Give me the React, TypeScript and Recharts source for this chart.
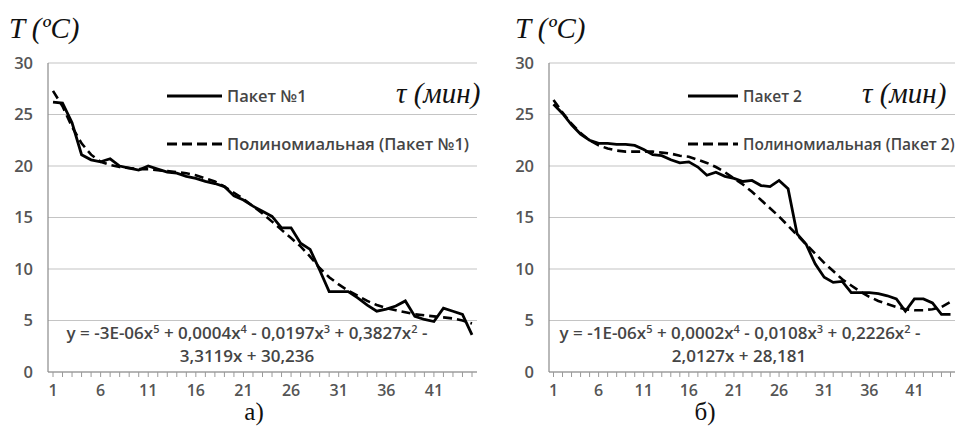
import React from 'react';
import { LineChart, Line, XAxis, YAxis, CartesianGrid } from 'recharts';

const minutes = [1,2,3,4,5,6,7,8,9,10,11,12,13,14,15,16,17,18,19,20,21,22,23,24,25,26,27,28,29,30,31,32,33,34,35,36,37,38,39,40,41,42,43,44,45];
const packet1 = [26.2,26.1,24.2,21.1,20.6,20.4,20.7,20.0,19.8,19.6,20.0,19.7,19.4,19.3,19.0,18.8,18.5,18.3,18.0,17.1,16.7,16.1,15.6,15.1,14.0,14.0,12.5,11.9,9.9,7.8,7.8,7.8,7.2,6.5,5.9,6.1,6.4,6.9,5.4,5.1,4.9,6.2,5.9,5.6,3.6];
const trend1 = [27.3,25.8,23.8,22.2,21.1,20.4,20.1,19.9,19.8,19.7,19.7,19.6,19.5,19.4,19.3,19.1,18.8,18.5,18.0,17.4,16.8,16.1,15.4,14.6,13.8,13.0,12.2,11.2,10.1,9.2,8.5,7.9,7.4,6.9,6.5,6.2,6.0,5.8,5.6,5.5,5.4,5.3,5.2,5.0,4.7];
const packet2 = [26.0,25.1,24.0,23.1,22.5,22.2,22.2,22.1,22.1,22.0,21.6,21.1,21.0,20.6,20.3,20.4,19.9,19.1,19.4,19.0,18.8,18.5,18.6,18.1,18.0,18.6,17.8,13.4,12.4,10.5,9.2,8.7,8.8,7.7,7.7,7.7,7.6,7.4,7.1,5.9,7.1,7.1,6.7,5.6,5.6];
const trend2 = [26.4,25.2,24.1,23.2,22.5,22.0,21.7,21.5,21.4,21.4,21.4,21.4,21.3,21.2,21.0,20.9,20.6,20.3,19.9,19.4,18.8,18.2,17.5,16.7,15.9,15.1,14.2,13.3,12.4,11.5,10.6,9.8,9.0,8.4,7.8,7.3,6.9,6.6,6.3,6.1,6.0,6.0,6.1,6.3,6.8];
const yTicks = [0,5,10,15,20,25,30];
const xLabelTicks = [1,6,11,16,21,26,31,36,41];

const data1 = minutes.map((m, i) => ({ m, actual: packet1[i], trend: trend1[i] }));
const data2 = minutes.map((m, i) => ({ m, actual: packet2[i], trend: trend2[i] }));

const SANS = '"Open Sans", "Noto Sans", sans-serif';
const SERIF = '"Liberation Serif", "DejaVu Serif", serif';
const TICK_COLOR = '#555555';
const TEXT_COLOR = '#454545';

const XTick = (props: any) => {
  const { x, y, payload } = props;
  if (!xLabelTicks.includes(payload.value)) return <g />;
  return (
    <text x={x} y={y} dy={17} textAnchor="middle" fill={TICK_COLOR} fontSize={16} fontWeight={600} fontFamily={SANS}>
      {payload.value}
    </text>
  );
};

function Panel(props: { data: any[]; width: number; yAxisWidth: number; marginRight: number; pad: number }) {
  const { data, width, yAxisWidth, marginRight, pad } = props;
  return (
    <LineChart width={width} height={428} data={data} margin={{ top: 63, right: marginRight, bottom: 26, left: 0 }}>
      <CartesianGrid vertical={false} stroke="#c4c4c4" strokeWidth={1.2} />
      <XAxis
        dataKey="m"
        type="category"
        interval={0}
        height={30}
        padding={{ left: pad, right: pad }}
        tick={<XTick />}
        tickSize={5}
        tickMargin={2}
        stroke="#8a8a8a"
        axisLine={{ stroke: '#8a8a8a', strokeWidth: 1.2 }}
        tickLine={{ stroke: '#9a9a9a' }}
      />
      <YAxis
        type="number"
        domain={[0, 30]}
        ticks={yTicks}
        width={yAxisWidth}
        tickLine={false}
        tickSize={0}
        tickMargin={15}
        axisLine={{ stroke: '#8a8a8a', strokeWidth: 1.2 }}
        tick={{ fill: TICK_COLOR, fontSize: 16.5, fontWeight: 600, fontFamily: SANS }}
      />
      <Line dataKey="actual" stroke="#000" strokeWidth={2.8} dot={false} isAnimationActive={false} />
      <Line dataKey="trend" stroke="#000" strokeWidth={2.6} strokeDasharray="9 5" dot={false} isAnimationActive={false} />
    </LineChart>
  );
}

function Sup({ children }: { children: React.ReactNode }) {
  return <tspan dy={-6} fontSize={11}>{children}</tspan>;
}

export default function App() {
  const legendText = { fontFamily: SANS, fontSize: 16.5, fontWeight: 600, fill: TEXT_COLOR } as const;
  const legendTextR = { fontFamily: SANS, fontSize: 15.5, fontWeight: 600, fill: TEXT_COLOR } as const;
  const eqText = { fontFamily: SANS, fontSize: 17, fontWeight: 600, fill: TEXT_COLOR } as const;
  const titleText = { fontFamily: SERIF, fontStyle: 'italic', fontSize: 29, fill: '#111' } as const;
  return (
    <div style={{ position: 'absolute', left: 0, top: 0, width: 965, height: 428, background: '#fff', overflow: 'hidden' }}>
      <div style={{ position: 'absolute', left: 0, top: 0 }}>
        <Panel data={data1} width={490} yAxisWidth={48} marginRight={13} pad={5} />
      </div>
      <div style={{ position: 'absolute', left: 490, top: 0 }}>
        <Panel data={data2} width={475} yAxisWidth={59} marginRight={10} pad={4.5} />
      </div>
      <svg width={965} height={428} style={{ position: 'absolute', left: 0, top: 0, pointerEvents: 'none' }}>
        {/* Left panel annotations */}
        <text x={9} y={38} {...titleText}>T (ºC)</text>
        <text x={396} y={103} {...titleText}>τ (мин)</text>
        <line x1={167} y1={96} x2={222} y2={96} stroke="#000" strokeWidth={2.8} />
        <text x={227} y={102} {...legendText}>Пакет №1</text>
        <line x1={167} y1={144} x2={222} y2={144} stroke="#000" strokeWidth={2.8} strokeDasharray="10 5" />
        <text x={227} y={150} {...legendText}>Полиномиальная (Пакет №1)</text>
        <text x={247} y={339} textAnchor="middle" {...eqText}>
          y = -3E-06x<Sup>5</Sup><tspan dy={6}> + 0,0004x</tspan><Sup>4</Sup><tspan dy={6}> - 0,0197x</tspan><Sup>3</Sup><tspan dy={6}> + 0,3827x</tspan><Sup>2</Sup><tspan dy={6}> -</tspan>
        </text>
        <text x={247} y={362} textAnchor="middle" {...eqText}>3,3119x + 30,236</text>
        <text x={254} y={420} textAnchor="middle" fontFamily={SERIF} fontSize={25} fill="#111">а)</text>

        {/* Right panel annotations */}
        <text x={515} y={38} {...titleText}>T (ºC)</text>
        <text x={862} y={103} {...titleText}>τ (мин)</text>
        <line x1={688} y1={96} x2={738} y2={96} stroke="#000" strokeWidth={2.8} />
        <text x={743} y={102} {...legendTextR}>Пакет 2</text>
        <line x1={688} y1={144} x2={738} y2={144} stroke="#000" strokeWidth={2.8} strokeDasharray="10 5" />
        <text x={743} y={150} {...legendTextR}>Полиномиальная (Пакет 2)</text>
        <text x={740} y={339} textAnchor="middle" {...eqText}>
          y = -1E-06x<Sup>5</Sup><tspan dy={6}> + 0,0002x</tspan><Sup>4</Sup><tspan dy={6}> - 0,0108x</tspan><Sup>3</Sup><tspan dy={6}> + 0,2226x</tspan><Sup>2</Sup><tspan dy={6}> -</tspan>
        </text>
        <text x={739} y={362} textAnchor="middle" {...eqText}>2,0127x + 28,181</text>
        <text x={705} y={420} textAnchor="middle" fontFamily={SERIF} fontSize={25} fill="#111">б)</text>
      </svg>
    </div>
  );
}
